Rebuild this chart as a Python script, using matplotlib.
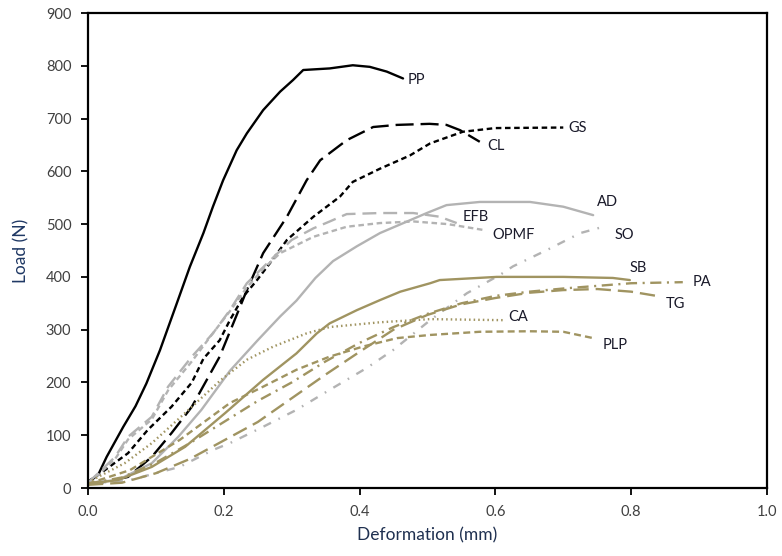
import matplotlib
matplotlib.use("Agg")
import matplotlib.pyplot as plt

plt.rcParams['font.family'] = ['Lato', 'DejaVu Sans']
plt.rcParams['lines.scale_dashes'] = False

# ---- data ----
PP_x = [0, 0.015, 0.0275, 0.052, 0.07, 0.086, 0.106, 0.13, 0.15, 0.17, 0.184, 0.199, 0.219, 0.234, 0.258, 0.283, 0.302, 0.317, 0.356, 0.39, 0.415, 0.44, 0.464]
PP_y = [10, 25, 59, 116, 155, 198, 261, 347, 419, 483, 533, 583, 640, 672, 716, 751, 773, 792, 795, 801, 798, 789, 776]

GS_x = [0, 0.025, 0.059, 0.088, 0.123, 0.153, 0.17, 0.194, 0.209, 0.229, 0.249, 0.268, 0.293, 0.332, 0.371, 0.39, 0.43, 0.474, 0.504, 0.552, 0.60, 0.70]
GS_y = [12, 34, 66, 110, 154, 200, 245, 280, 318, 363, 394, 426, 470, 514, 552, 580, 605, 630, 653, 675, 682, 683]

CL_x = [0, 0.015, 0.059, 0.094, 0.123, 0.153, 0.175, 0.194, 0.214, 0.234, 0.258, 0.293, 0.322, 0.342, 0.381, 0.42, 0.455, 0.503, 0.528, 0.548, 0.577]
CL_y = [8, 9, 21, 59, 104, 154, 205, 249, 312, 375, 445, 514, 583, 621, 659, 684, 688, 690, 688, 678, 656]

EFB_x = [0, 0.015, 0.04, 0.059, 0.094, 0.118, 0.153, 0.184, 0.209, 0.234, 0.264, 0.30, 0.332, 0.356, 0.381, 0.43, 0.479, 0.518, 0.543]
EFB_y = [10, 28, 59, 97, 135, 192, 249, 293, 337, 388, 426, 470, 492, 505, 519, 521, 521, 514, 502]

OPMF_x = [0, 0.015, 0.04, 0.059, 0.094, 0.118, 0.153, 0.182, 0.209, 0.234, 0.258, 0.283, 0.332, 0.381, 0.43, 0.48, 0.53, 0.582]
OPMF_y = [10, 25, 55, 92, 130, 185, 240, 290, 335, 380, 415, 445, 476, 495, 502, 505, 500, 489]

AD_x = [0, 0.044, 0.094, 0.133, 0.167, 0.209, 0.25, 0.283, 0.307, 0.335, 0.361, 0.396, 0.43, 0.47, 0.499, 0.528, 0.577, 0.651, 0.70, 0.744]
AD_y = [10, 15, 47, 97, 148, 222, 280, 325, 355, 398, 430, 458, 483, 505, 521, 536, 542, 542, 533, 517]

SO_x = [0, 0.062, 0.135, 0.184, 0.209, 0.258, 0.307, 0.356, 0.41, 0.449, 0.504, 0.558, 0.607, 0.626, 0.676, 0.725, 0.759]
SO_y = [8, 15, 40, 72, 85, 116, 148, 186, 227, 261, 318, 369, 404, 420, 451, 483, 495]

SB_x = [0, 0.044, 0.094, 0.143, 0.202, 0.258, 0.307, 0.337, 0.356, 0.396, 0.43, 0.46, 0.504, 0.518, 0.602, 0.70, 0.773, 0.798]
SB_y = [8, 15, 40, 78, 142, 205, 255, 293, 312, 337, 356, 372, 388, 394, 400, 400, 398, 394]

PA_x = [0, 0.05, 0.1, 0.15, 0.2, 0.25, 0.3, 0.35, 0.4, 0.45, 0.5, 0.55, 0.6, 0.65, 0.7, 0.75, 0.8, 0.876]
PA_y = [8, 20, 48, 85, 125, 165, 200, 240, 275, 305, 330, 350, 364, 372, 378, 383, 388, 390]

TG_x = [0, 0.05, 0.1, 0.15, 0.2, 0.25, 0.3, 0.35, 0.4, 0.45, 0.5, 0.55, 0.6, 0.65, 0.7, 0.75, 0.8, 0.842]
TG_y = [6, 10, 28, 55, 90, 125, 170, 215, 258, 300, 328, 348, 360, 370, 375, 377, 372, 363]

CA_x = [0, 0.015, 0.054, 0.094, 0.143, 0.196, 0.234, 0.273, 0.322, 0.356, 0.43, 0.504, 0.611]
CA_y = [10, 21, 47, 85, 142, 205, 243, 268, 293, 305, 314, 320, 318]

PLP_x = [0, 0.062, 0.135, 0.209, 0.258, 0.307, 0.356, 0.405, 0.455, 0.504, 0.577, 0.65, 0.70, 0.744]
PLP_y = [8, 34, 91, 161, 192, 224, 249, 268, 284, 290, 296, 297, 296, 284]

labels = ['PP', 'GS', 'CL', 'AD', 'EFB', 'OPMF', 'SO', 'SB', 'PA', 'TG', 'CA', 'PLP']
label_x = [0.471, 0.708, 0.588, 0.75, 0.552, 0.596, 0.775, 0.797, 0.891, 0.851, 0.619, 0.758]
label_y = [773, 682, 648, 542, 513, 479, 479, 417, 390, 349, 324, 271]

x_ticks = [0.0, 0.2, 0.4, 0.6, 0.8, 1.0]
y_ticks = [0, 100, 200, 300, 400, 500, 600, 700, 800, 900]

# ---- styling ----
BLACK = '#000000'
GRAY = '#b3b3b3'
OLIVE = '#a09461'
LW = 1.7

fig = plt.figure(figsize=(7.82, 5.56), dpi=100)
ax = fig.add_axes([0.1125, 0.1223, 0.8683, 0.8543])

series = [
    (PP_x, PP_y, BLACK, '-'),
    (GS_x, GS_y, BLACK, (0, (4, 2.6))),
    (CL_x, CL_y, BLACK, (0, (13, 5))),
    (AD_x, AD_y, GRAY, '-'),
    (EFB_x, EFB_y, GRAY, (0, (10, 5))),
    (OPMF_x, OPMF_y, GRAY, (0, (4, 2.6))),
    (SO_x, SO_y, GRAY, (0, (6, 6, 1.2, 6))),
    (SB_x, SB_y, OLIVE, '-'),
    (PA_x, PA_y, OLIVE, (0, (8, 4, 1.5, 4))),
    (TG_x, TG_y, OLIVE, (0, (11, 5))),
    (CA_x, CA_y, OLIVE, (0, (1.1, 2.2))),
    (PLP_x, PLP_y, OLIVE, (0, (5, 3))),
]
for xs, ys, c, ls in series:
    ax.plot(xs, ys, color=c, linestyle=ls, linewidth=LW,
            solid_capstyle='round', solid_joinstyle='round')

for t, lx, ly in zip(labels, label_x, label_y):
    ax.text(lx, ly, t, fontsize=10.5, color='#1a1a2a', ha='left', va='center')

ax.set_xlim(0, 1.0)
ax.set_ylim(0, 900)
ax.set_xticks(x_ticks)
ax.set_xticklabels([f'{v:.1f}' for v in x_ticks])
ax.set_yticks(y_ticks)
ax.set_yticklabels([str(v) for v in y_ticks])
ax.tick_params(axis='both', direction='out', length=5, width=1.3, colors='#000000',
               labelsize=10.5, labelcolor='#404040', pad=7)
for s in ax.spines.values():
    s.set_linewidth(1.6)
    s.set_color('#000000')

ax.set_xlabel('Deformation (mm)', fontsize=12.5, color='#1F3050', labelpad=6)
ax.set_ylabel('Load (N)', fontsize=12.5, color='#1F3864', labelpad=12)

fig.savefig('out.png', dpi=100)
